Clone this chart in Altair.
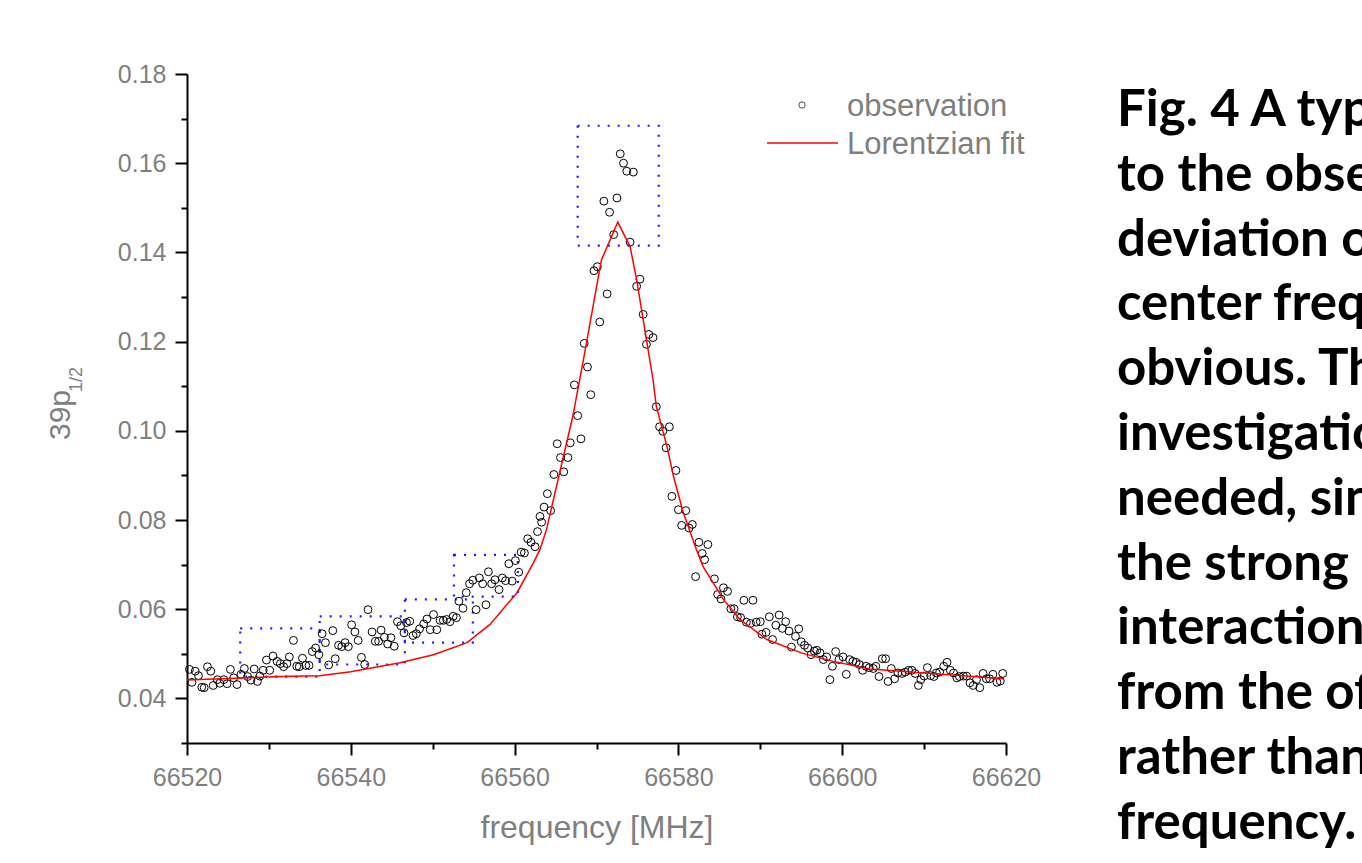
import altair as alt
import pandas as pd

# ---------------- data ----------------
# observation (open circles), split by region of the curve
base_left_freq = [66520.3, 66520.6, 66521.0, 66521.4, 66521.8, 66522.1, 66522.5, 66522.9, 66523.2, 66523.7,
                  66524.0, 66524.5, 66524.9, 66525.3, 66525.7, 66526.1, 66526.6, 66527.0, 66527.4, 66527.8,
                  66528.2, 66528.6, 66528.9, 66529.3, 66529.7, 66530.1, 66530.5, 66531.0, 66531.4, 66531.8,
                  66532.2, 66532.5, 66533.0, 66533.4, 66533.7, 66534.1, 66534.5, 66534.9, 66535.3, 66535.7,
                  66536.1, 66536.5, 66536.9, 66537.3, 66537.8, 66538.1, 66538.5, 66538.9, 66539.3, 66539.7,
                  66540.1, 66540.5, 66540.9, 66541.3, 66541.7, 66542.1, 66542.6, 66543.0, 66543.4, 66543.7,
                  66544.1, 66544.5, 66544.9, 66545.3, 66545.7, 66546.1, 66546.5, 66546.8, 66547.2]
base_left_val = [0.0465, 0.0436, 0.0461, 0.0451, 0.0425, 0.0424, 0.0471, 0.0461, 0.0429, 0.0442,
                 0.0434, 0.0442, 0.0433, 0.0465, 0.0446, 0.0431, 0.0454, 0.0467, 0.0449, 0.0441,
                 0.0466, 0.0438, 0.0450, 0.0463, 0.0486, 0.0463, 0.0495, 0.0483, 0.0478, 0.0471,
                 0.0478, 0.0493, 0.0530, 0.0472, 0.0471, 0.0490, 0.0474, 0.0474, 0.0505, 0.0513,
                 0.0498, 0.0545, 0.0525, 0.0475, 0.0552, 0.0489, 0.0519, 0.0516, 0.0525, 0.0516,
                 0.0565, 0.0549, 0.0530, 0.0492, 0.0476, 0.0599, 0.0549, 0.0528, 0.0528, 0.0553,
                 0.0537, 0.0522, 0.0536, 0.0517, 0.0572, 0.0563, 0.0547, 0.0570, 0.0573]

rise_freq = [66547.6, 66548.0, 66548.4, 66548.9, 66549.3, 66549.7, 66550.1, 66550.5, 66550.9, 66551.3,
             66551.7, 66552.1, 66552.5, 66552.9, 66553.2, 66553.7, 66554.1, 66554.5, 66554.9, 66555.3,
             66555.7, 66556.1, 66556.5, 66556.8, 66557.2, 66557.6, 66558.1, 66558.5, 66558.9, 66559.3,
             66559.7, 66560.1, 66560.5, 66560.8, 66561.2, 66561.6, 66562.0, 66562.5, 66562.8, 66563.1,
             66563.3, 66563.6, 66564.0, 66564.4, 66564.8, 66565.2, 66565.6, 66566.0, 66566.5, 66566.8,
             66567.3, 66567.7, 66568.1, 66568.5, 66568.9, 66569.3]
rise_val = [0.0541, 0.0545, 0.0556, 0.0567, 0.0578, 0.0554, 0.0588, 0.0554, 0.0575, 0.0575,
            0.0577, 0.0572, 0.0584, 0.0581, 0.0618, 0.0602, 0.0637, 0.0657, 0.0665, 0.0599,
            0.0670, 0.0657, 0.0610, 0.0684, 0.0657, 0.0666, 0.0644, 0.0670, 0.0664, 0.0702,
            0.0663, 0.0709, 0.0683, 0.0728, 0.0726, 0.0758, 0.0750, 0.0740, 0.0774, 0.0808,
            0.0795, 0.0829, 0.0859, 0.0821, 0.0902, 0.0971, 0.0940, 0.0908, 0.0940, 0.0973,
            0.1103, 0.1034, 0.0982, 0.1196, 0.1143, 0.1081]

peak_freq = [66569.7, 66570.1, 66570.4, 66570.9, 66571.3, 66571.6, 66572.1, 66572.5, 66572.9, 66573.3,
             66573.7, 66574.1, 66574.5, 66574.9, 66575.3, 66575.7, 66576.1, 66576.4, 66576.9]
peak_val = [0.1359, 0.1368, 0.1244, 0.1515, 0.1307, 0.1490, 0.1440, 0.1522, 0.1621, 0.1600,
            0.1582, 0.1423, 0.1580, 0.1324, 0.1340, 0.1261, 0.1194, 0.1216, 0.1209]

fall_freq = [66577.3, 66577.7, 66578.1, 66578.5, 66578.9, 66579.2, 66579.7, 66580.0, 66580.4, 66580.9,
             66581.3, 66581.7, 66582.1, 66582.5, 66582.9, 66583.2, 66583.6, 66584.4, 66584.8, 66585.2,
             66585.5, 66586.0, 66586.4, 66586.8, 66587.2, 66587.6, 66588.0, 66588.3, 66588.8, 66589.1,
             66589.5, 66590.0, 66590.2, 66590.7, 66591.1, 66591.5, 66591.9, 66592.3, 66592.7, 66593.1,
             66593.5, 66593.8, 66594.3, 66594.7, 66595.0, 66595.4, 66595.8, 66596.2, 66596.6, 66596.9,
             66597.3, 66597.7, 66598.1, 66598.5, 66598.8, 66599.2, 66599.6, 66600.1, 66600.5, 66600.9,
             66601.3, 66601.7, 66602.1, 66602.5, 66602.9, 66603.3]
fall_val = [0.1054, 0.1009, 0.0999, 0.0962, 0.1009, 0.0853, 0.0911, 0.0823, 0.0788, 0.0821,
            0.0782, 0.0790, 0.0673, 0.0750, 0.0725, 0.0711, 0.0745, 0.0668, 0.0633, 0.0623,
            0.0648, 0.0640, 0.0601, 0.0601, 0.0583, 0.0581, 0.0620, 0.0571, 0.0568, 0.0620,
            0.0571, 0.0572, 0.0544, 0.0548, 0.0583, 0.0532, 0.0564, 0.0587, 0.0557, 0.0572,
            0.0551, 0.0515, 0.0539, 0.0556, 0.0527, 0.0519, 0.0513, 0.0498, 0.0506, 0.0508,
            0.0502, 0.0487, 0.0493, 0.0442, 0.0472, 0.0505, 0.0487, 0.0493, 0.0454, 0.0487,
            0.0483, 0.0481, 0.0476, 0.0463, 0.0472, 0.0469]

tail_freq = [66603.8, 66604.1, 66604.5, 66604.9, 66605.3, 66605.6, 66606.0, 66606.4, 66606.8, 66607.3,
             66607.7, 66608.1, 66608.5, 66608.9, 66609.3, 66609.6, 66610.0, 66610.4, 66610.8, 66611.2,
             66611.5, 66611.9, 66612.4, 66612.8, 66613.2, 66613.6, 66614.0, 66614.3, 66614.8, 66615.2,
             66615.6, 66616.0, 66616.4, 66616.8, 66617.2, 66617.6, 66618.0, 66618.4, 66618.9, 66619.3,
             66619.6]
tail_val = [0.0467, 0.0472, 0.0449, 0.0489, 0.0489, 0.0438, 0.0467, 0.0444, 0.0457, 0.0456,
            0.0459, 0.0463, 0.0463, 0.0456, 0.0429, 0.0442, 0.0450, 0.0469, 0.0451, 0.0449,
            0.0457, 0.0459, 0.0472, 0.0481, 0.0463, 0.0457, 0.0446, 0.0449, 0.0450, 0.0450,
            0.0435, 0.0429, 0.0442, 0.0424, 0.0456, 0.0444, 0.0444, 0.0454, 0.0436, 0.0439,
            0.0456]

# Lorentzian fit (red line)
fit_freq = [66520.0, 66531.4, 66536.2, 66540.0, 66546.0, 66550.1, 66554.2, 66557.0, 66560.3, 66562.3,
            66563.1, 66563.9, 66565.5, 66567.1, 66568.4, 66570.6, 66572.6, 66574.1, 66574.9, 66576.9,
            66577.3, 66578.6, 66579.4, 66580.6, 66582.2, 66583.0, 66585.5, 66587.5, 66590.8, 66595.0,
            66598.9, 66603.4, 66610.9, 66619.7]
fit_val = [0.0441, 0.0449, 0.0451, 0.0460, 0.0480, 0.0498, 0.0525, 0.0566, 0.0637, 0.0704,
           0.0734, 0.0779, 0.0906, 0.1032, 0.1159, 0.1383, 0.1468, 0.1413, 0.1339, 0.1115,
           0.1055, 0.0965, 0.0898, 0.0816, 0.0734, 0.0696, 0.0622, 0.0577, 0.0532, 0.0502,
           0.0483, 0.0466, 0.0456, 0.0444]

# dotted blue boxes (frequency / signal extents)
box_f1 = [66526.5, 66536.2, 66546.6, 66552.6, 66567.7]
box_f2 = [66536.2, 66546.6, 66554.9, 66560.4, 66577.6]
box_s1 = [0.0449, 0.0476, 0.0525, 0.0628, 0.1415]
box_s2 = [0.0557, 0.0584, 0.0622, 0.0722, 0.1684]

# axis ticks
x_major_ticks = [66520, 66540, 66560, 66580, 66600, 66620]
x_minor_ticks = [66530, 66550, 66570, 66590, 66610]
y_major_ticks = [0.04, 0.06, 0.08, 0.10, 0.12, 0.14, 0.16, 0.18]
y_minor_ticks = [0.03, 0.05, 0.07, 0.09, 0.11, 0.13, 0.15, 0.17]

legend_labels = ["observation", "Lorentzian fit"]
y_title_main = "39p"
y_title_sub = "1/2"
x_title = "frequency [MHz]"

caption_lines = [
    "Fig. 4 A typical Lorentzian fit",
    "to the observation. The",
    "deviation of the peak from the",
    "center frequency is",
    "obvious. Theoretical",
    "investigation is",
    "needed, since",
    "the strong dipole",
    "interaction results",
    "from the off-resonance",
    "rather than the resonance",
    "frequency.",
]

# ---------------- tables ----------------
obs = pd.DataFrame({
    "freq": base_left_freq + rise_freq + peak_freq + fall_freq + tail_freq,
    "signal": base_left_val + rise_val + peak_val + fall_val + tail_val,
})
fit = pd.DataFrame({"freq": fit_freq, "signal": fit_val})
boxes = pd.DataFrame({"f1": box_f1, "f2": box_f2, "s1": box_s1, "s2": box_s2})
one = pd.DataFrame({"k": [0]})

# ---------------- styling ----------------
W, H = 819, 669
GRAY = "#7f7f7f"
FONT = "Liberation Sans"

xs = alt.Scale(domain=[66520, 66620], nice=False, zero=False)
ys = alt.Scale(domain=[0.03, 0.18], nice=False, zero=False)

x_major = alt.Axis(values=x_major_ticks, format="d", orient="bottom", grid=False, labelFlush=False,
                   domainColor="black", domainWidth=2, tickColor="black", tickWidth=2, tickSize=12,
                   labelFont=FONT, labelFontSize=25, labelColor=GRAY, labelPadding=10,
                   title=x_title, titleFont=FONT, titleFontSize=32, titleFontWeight="normal",
                   titleColor=GRAY, titlePadding=22)
y_major = alt.Axis(values=y_major_ticks, format=".2f", orient="left", grid=False, labelFlush=False,
                   domainColor="black", domainWidth=2, tickColor="black", tickWidth=2, tickSize=12,
                   labelFont=FONT, labelFontSize=25, labelColor=GRAY, labelPadding=9, title=None)
x_minor = alt.Axis(values=x_minor_ticks, orient="bottom", grid=False, domain=False, labels=False,
                   tickColor="black", tickWidth=2, tickSize=6, title=None)
y_minor = alt.Axis(values=y_minor_ticks, orient="left", grid=False, domain=False, labels=False,
                   tickColor="black", tickWidth=2, tickSize=6, title=None)

boxes_layer = alt.Chart(boxes).mark_rect(fillOpacity=0, stroke="#1a1aff", strokeWidth=2.2,
                                         strokeDash=[2, 8]).encode(
    x=alt.X("f1:Q", scale=xs, axis=None), x2="f2:Q",
    y=alt.Y("s1:Q", scale=ys, axis=None), y2="s2:Q")

points = alt.Chart(obs).mark_point(shape="circle", filled=False, color="black", size=62,
                                   strokeWidth=1, opacity=1).encode(
    x=alt.X("freq:Q", scale=xs, axis=x_major),
    y=alt.Y("signal:Q", scale=ys, axis=y_major))

minor = alt.Chart(obs).mark_point(opacity=0).encode(
    x=alt.X("freq:Q", scale=xs, axis=x_minor),
    y=alt.Y("signal:Q", scale=ys, axis=y_minor))

fit_line = alt.Chart(fit).mark_line(color="#ff0000", strokeWidth=1.5).encode(
    x=alt.X("freq:Q", scale=xs, axis=None),
    y=alt.Y("signal:Q", scale=ys, axis=None))

# legend (drawn by hand inside the plot area)
leg_sym = alt.Chart(one).mark_point(shape="circle", filled=False, color="black", size=40,
                                    strokeWidth=1).encode(x=alt.value(615), y=alt.value(31))
leg_rule = alt.Chart(one).mark_rule(color="#ff0000", strokeWidth=1.5).encode(
    x=alt.value(580), x2=alt.value(651), y=alt.value(69))
leg_t1 = alt.Chart(one).mark_text(align="left", baseline="alphabetic", font=FONT, fontSize=31,
                                  color=GRAY, text=legend_labels[0]).encode(
    x=alt.value(660), y=alt.value(42))
leg_t2 = alt.Chart(one).mark_text(align="left", baseline="alphabetic", font=FONT, fontSize=31,
                                  color=GRAY, text=legend_labels[1]).encode(
    x=alt.value(660), y=alt.value(80))

# y-axis title with subscript
yt_main = alt.Chart(one).mark_text(align="left", baseline="alphabetic", angle=270, font=FONT,
                                   fontSize=30, color=GRAY, text=y_title_main).encode(
    x=alt.value(-117), y=alt.value(366))
yt_sub = alt.Chart(one).mark_text(align="left", baseline="alphabetic", angle=270, font=FONT,
                                  fontSize=18, color=GRAY, text=y_title_sub).encode(
    x=alt.value(-105), y=alt.value(318))

# caption on the right (runs off the edge)
caption = alt.Chart(one).mark_text(align="left", baseline="alphabetic", font="Lato",
                                   fontWeight="bold", fontSize=51, color="black",
                                   lineBreak="\n", lineHeight=64.8,
                                   text="\n".join(caption_lines)).encode(
    x=alt.value(930), y=alt.value(52))

chart = alt.layer(
    boxes_layer, minor, points, fit_line,
    leg_sym, leg_rule, leg_t1, leg_t2, yt_main, yt_sub, caption
).resolve_axis(
    x="independent", y="independent"
).properties(
    width=W, height=H,
    autosize=alt.AutoSizeParams(type="none"),
    padding={"left": 187, "top": 74, "right": 356, "bottom": 120},
    background="white",
).configure_view(strokeWidth=0)

chart.save("out.html", embed_options={"renderer": "svg", "actions": False})
